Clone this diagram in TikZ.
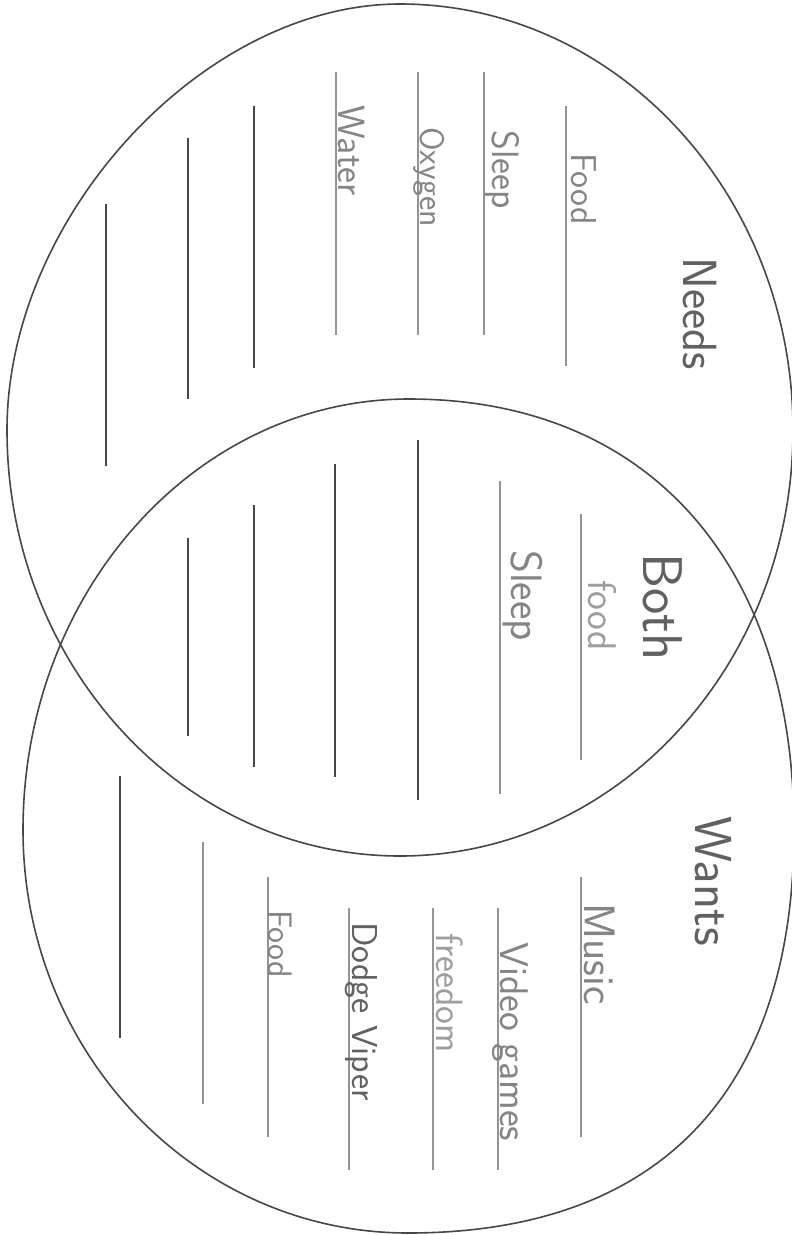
\documentclass[tikz,border=0pt]{standalone}
\usepackage{tikz}

\begin{document}
\begin{tikzpicture}[
  x=1pt, y=-1pt,
  outline/.style={draw=black!72, line width=1.6pt},
  rulelight/.style={draw=black!42, line width=1.6pt},
  ruledark/.style={draw=black!72, line width=1.4pt},
  hand/.style={rotate=-90, anchor=base west, inner sep=0pt, text=black!48,
               font=\sffamily\fontsize{#1}{#1}\selectfont},
  hand/.default=34,
  title/.style={hand=#1, text=black!62}
]
\useasboundingbox[fill=white] (0,0) rectangle (792,1235);

% the two circles
\draw[outline] (400,4) .. controls (617,4) and (793,195) .. (793,430)
  .. controls (793,665) and (617,856) .. (400,856)
  .. controls (183,856) and (7,665) .. (7,430)
  .. controls (7,217) and (203,4) .. (400,4) -- cycle;
\draw[outline] (409,399) .. controls (648,399) and (794,563) .. (794,830)
  .. controls (794,1092) and (659,1233) .. (408,1233)
  .. controls (195,1233) and (23,1052) .. (23,830)
  .. controls (23,592) and (196,399) .. (409,399) -- cycle;

% writing lines, needs
\draw[rulelight] (566,106) -- (566,366);
\draw[rulelight] (484,72) -- (484,335);
\draw[rulelight] (418,72) -- (418,335);
\draw[rulelight] (336,72) -- (336,335);
\draw[ruledark] (254,106) -- (254,368);
\draw[ruledark] (188,138) -- (188,399);
\draw[ruledark] (106,204) -- (106,466);

% writing lines, both
\draw[rulelight] (581,514) -- (581,760);
\draw[rulelight] (500,481) -- (500,794);
\draw[ruledark] (418,440) -- (418,800);
\draw[ruledark] (335,464) -- (335,777);
\draw[ruledark] (254,505) -- (254,767);
\draw[ruledark] (188,538) -- (188,736);

% writing lines, wants
\draw[rulelight] (581,877) -- (581,1137);
\draw[rulelight] (498,908) -- (498,1170);
\draw[rulelight, line width=2.4pt] (433,908) -- (433,1170);
\draw[rulelight] (349,908) -- (349,1170);
\draw[rulelight] (268,877) -- (268,1137);
\draw[rulelight] (203,842) -- (203,1104);
\draw[ruledark] (120,776) -- (120,1038);

% headings
\node[title=48] (needs) at (683,257) {Needs};
\node[title=56] (both) at (643,553) {Both};
\node[title=52] (wants) at (695,816) {Wants};

% entries
\node[hand=36] (foodA) at (571,153) {Food};
\node[hand=38] (sleepA) at (492,130) {Sleep};
\node[hand=34] (oxygen) at (420,127) {Oxygen};
\node[hand=38] (water) at (338,105) {Water};
\node[hand=40, text=black!38] (foodB) at (588,580) {food};
\node[hand=44] (sleepB) at (511,550) {Sleep};
\node[hand=44] (music) at (584,903) {Music};
\node[hand=40] (games) at (500,942) {Video games};
\node[hand=38, text=black!38] (freedom) at (436,933) {freedom};
\node[hand=36, text=black!62] (viper) at (352,922) {Dodge Viper};
\node[hand=34] (foodC) at (268,910) {Food};
\end{tikzpicture}
\end{document}
